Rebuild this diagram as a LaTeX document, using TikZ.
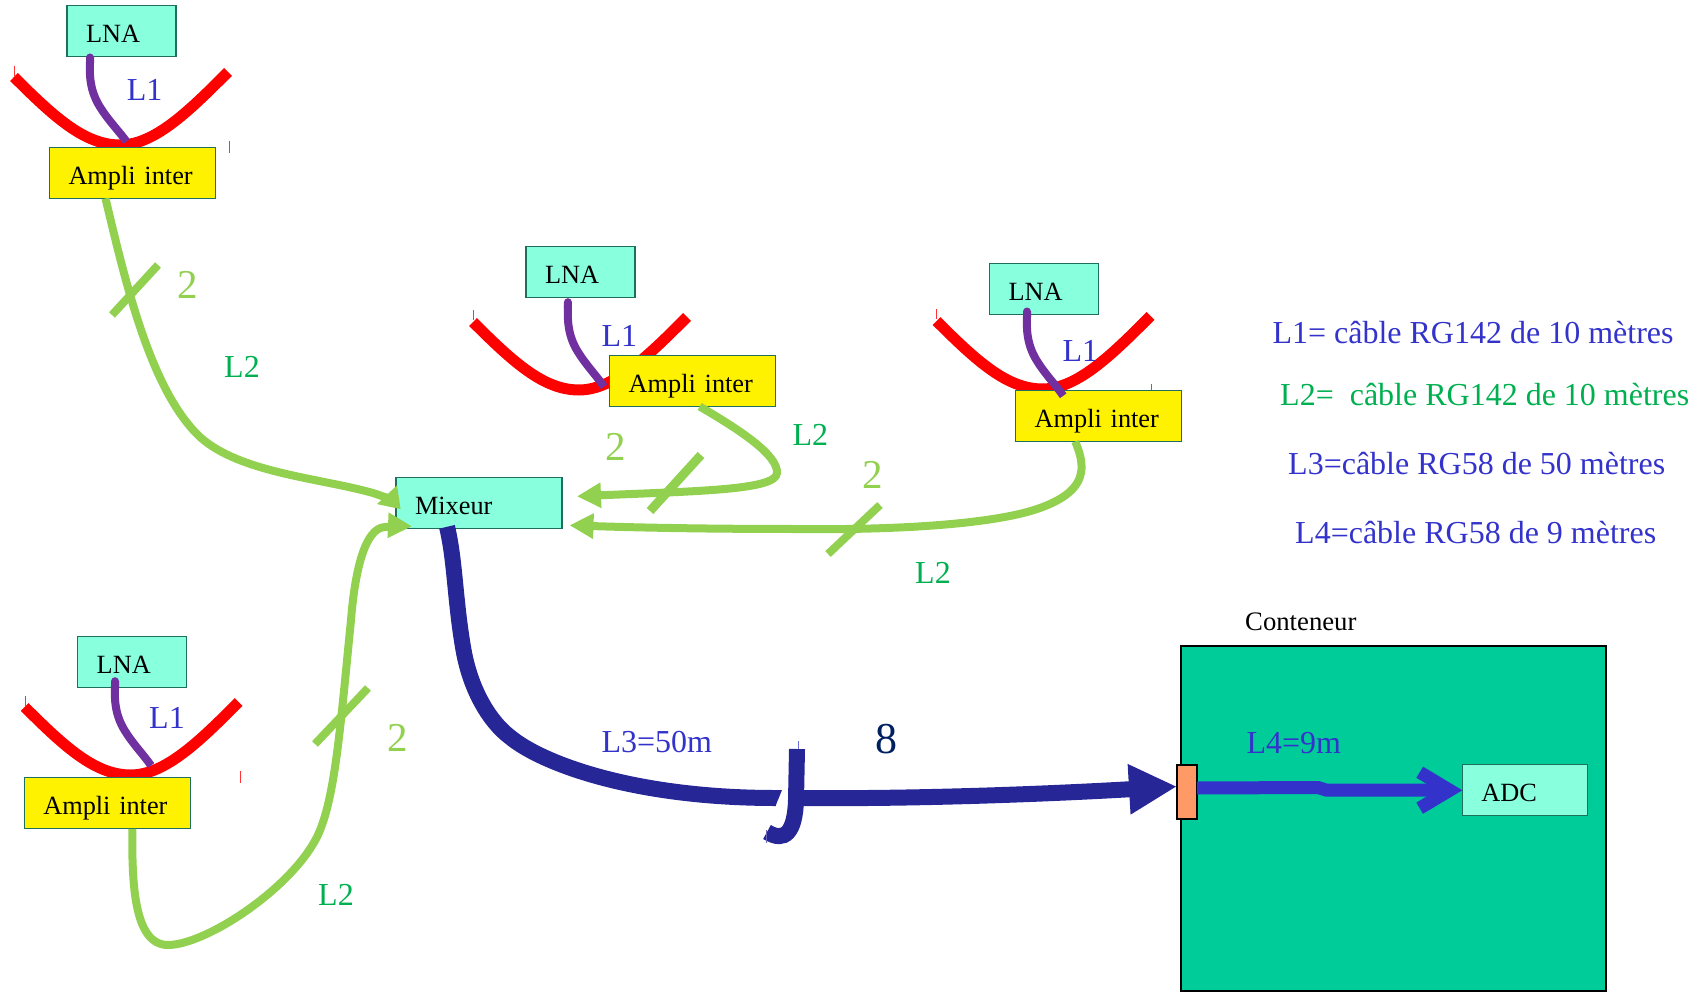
\documentclass[tikz,border=0pt]{standalone}
\usepackage{fontspec}
\setmainfont{Liberation Serif}
\usetikzlibrary{arrows.meta}
\definecolor{aquabox}{HTML}{88FFDD}
\definecolor{boxline}{HTML}{1F6F5F}
\definecolor{contfill}{HTML}{00CC99}
\definecolor{connfill}{HTML}{FF9966}
\definecolor{cablegreen}{HTML}{92D050}
\definecolor{labgreen}{HTML}{00B050}
\definecolor{labblue}{HTML}{3333CC}
\definecolor{navycable}{HTML}{262696}
\definecolor{purplecable}{HTML}{7030A0}
\definecolor{darknum}{HTML}{002060}
\tikzset{
	box/.style={draw=boxline,line width=1.3pt,outer sep=0pt,anchor=north west,minimum height=51pt,inner xsep=19pt,inner ysep=0pt,text height=22.5pt,text depth=0pt,align=left,font=\fontsize{26.3}{30}\selectfont},
	lnabox/.style={box,fill=aquabox,text width=71pt},
	amplibox/.style={box,fill=yellow,text width=128pt},
	mixbox/.style={box,fill=aquabox,text width=128pt},
	adcbox/.style={box,fill=aquabox,text width=87pt},
	dish/.style={red,line width=11pt},
	ticklet/.style={red!80,line width=1pt},
	feed/.style={{Round Cap[]}-,purplecable,line width=8pt},
	cable/.style={-{Triangle[length=24pt,width=24pt]},cablegreen,line width=8pt},
	slash/.style={cablegreen,line width=8pt},
	lab/.style={anchor=base west,inner sep=0pt,xshift=-1pt,yshift=-.3pt,font=\fontsize{32}{36}\selectfont},
	num/.style={lab,font=\fontsize{41}{46}\selectfont,text=cablegreen}
}
\begin{document}
\begin{tikzpicture}[x=1pt,y=-1pt]
	\useasboundingbox (0,0) rectangle (1704,992);

	\draw[dish] (14,77) .. controls (55,118) and (85,145) .. (120,145) .. controls (155,145) and (190,110) .. (228,72);
	\draw[dish,shift={(459,245)}] (14,77) .. controls (55,118) and (85,145) .. (120,145) .. controls (155,145) and (190,110) .. (228,72);
	\draw[dish,shift={(922.5,244)}] (14,77) .. controls (55,118) and (85,145) .. (120,145) .. controls (155,145) and (190,110) .. (228,72);
	\draw[dish,shift={(10.7,630)}] (14,77) .. controls (55,118) and (85,145) .. (120,145) .. controls (155,145) and (190,110) .. (228,72);

	\draw[ticklet] (14.5,66) -- (14.5,76);
	\draw[ticklet] (229,141) -- (229,153);
	\draw[ticklet] (473.7,310) -- (473.7,320);
	\draw[ticklet] (936.7,309) -- (936.7,319);
	\draw[ticklet] (1151.7,384) -- (1151.7,392);
	\draw[ticklet] (25.7,696) -- (25.7,706);
	\draw[ticklet] (240,771) -- (240,783);

	\node[lnabox] (lna1) at (67,5.5) {LNA};
	\node[lnabox] (lna2) at (526,246.5) {LNA};
	\node[lnabox] (lna3) at (989.5,263.5) {LNA};
	\node[lnabox] (lna4) at (77.7,636.5) {LNA};
	\node[amplibox] (ampli1) at (49.5,147.5) {Ampli inter};
	\node[amplibox] (ampli2) at (609.7,355.5) {Ampli inter};
	\node[amplibox] (ampli3) at (1015.7,390.5) {Ampli inter};
	\node[amplibox] (ampli4) at (24.3,777.8) {Ampli inter};
	\node[mixbox] (mixeur) at (396,477.8) {Mixeur};

	\node[anchor=north west,draw=black,line width=2pt,outer sep=0pt,fill=contfill,minimum width=425pt,minimum height=345.5pt] (conteneur) at (1181,645.5) {};
	\node[adcbox] (adc) at (1462.3,764.8) {ADC};
	\node[anchor=north west,draw=black,line width=2pt,outer sep=0pt,fill=connfill,minimum width=20pt,minimum height=54pt,inner sep=0pt] (conn) at (1177,764.5) {};

	\draw[feed] ([xshift=-31.5pt,yshift=3pt]lna1.south) .. controls (90,70) and (88,88) .. (100,107) .. controls (108,120) and (118,130) .. ([xshift=-6pt,yshift=6pt]ampli1.north);
	\draw[feed] ([xshift=-12.6pt,yshift=-.7pt]lna2.south) .. controls (568,315) and (566,333) .. (578,352) .. controls (586,365) and (596,375) .. ([xshift=-5.7pt,yshift=-5.7pt]ampli2.west);
	\draw[feed] ([xshift=-17pt,yshift=7pt]lna3.south) .. controls (1027,324) and (1025,342) .. (1037,361) .. controls (1045,374) and (1055,384) .. ([xshift=-35.5pt,yshift=-5.3pt]ampli3.north);
	\draw[feed] ([xshift=-17.2pt,yshift=10.3pt]lna4.south) .. controls (115,694) and (113,712) .. (125,731) .. controls (133,744) and (143,754) .. ([xshift=43.7pt,yshift=12.3pt]ampli4.north);

	\draw[cable,-{Triangle[length=20pt,width=26pt]}] ([xshift=-27pt]ampli1.south) .. controls (125,280) and (150,390) .. (200,437) .. controls (240,473) and (320,478) .. (373,493) .. controls (385,497) and (392,500) .. ([xshift=4.7pt,yshift=-6pt]mixeur.west);
	\draw[cable] ([xshift=7pt]ampli2.south) .. controls (740,430) and (778,455) .. (777,473) .. controls (776,490) and (700,491) .. ([xshift=15pt,yshift=7pt]mixeur.east);
	\draw[cable] ([xshift=-23.5pt]ampli3.south) .. controls (1085,465) and (1090,490) .. (1040,508) .. controls (990,526) and (880,530) .. (800,529) .. controls (720,529) and (650,528) .. ([xshift=7.5pt,yshift=-22pt]mixeur.east);
	\draw[cable] ([xshift=25pt]ampli4.south) .. controls (132,880) and (133,945) .. (168,945) .. controls (205,945) and (290,890) .. (317,837) .. controls (335,800) and (340,730) .. (351,620) .. controls (355,570) and (365,528) .. (385,527) .. controls (395,527) and (405,526) .. ([xshift=16pt,yshift=-23pt]mixeur.west);

	\draw[slash] (112,315) -- (158,265);
	\draw[slash,line width=9pt] (701,455) -- (650,511);
	\draw[slash] (828,554) -- (880,505);
	\draw[slash] (315,744) -- (368,688);

	\coordinate (jumpa) at (776,798);
	\coordinate (jumpb) at (803,798);
	\draw[navycable,line width=16pt] ([xshift=-32pt,yshift=2pt]mixeur.south) .. controls (455,560) and (455,600) .. (463,647) .. controls (470,690) and (490,722) .. (510,737) .. controls (540,762) and (630,798) .. (jumpa);
	\fill[navycable] (775.5,790) -- (782,790) -- (775.5,806) -- cycle;
	\draw[navycable,line width=16pt] (797,749) -- (796,800) .. controls (795,832) and (785,843) .. (767,832);
	\draw[-{Triangle[length=48pt,width=47pt]},navycable,line width=16pt] (jumpb) .. controls (900,799) and (1030,795) .. ([yshift=5pt]conn.west);
	\draw[labblue!70!white,line width=1pt] (798,741) -- (798,749);
	\draw[navycable!70!white,line width=1pt] (766,830) -- (766,843);

	\draw[-{Straight Barb[length=30pt,width=36pt]},labblue,line width=13pt] ([yshift=3.5pt]conn.east) -- (1318,787.5) -- (1326,790) -- (adc.west);

	\node[lab,text=labblue] (l1a) at (127.7,100) {L1};
	\node[lab,text=labblue] (l1b) at (602.3,345.7) {L1};
	\node[lab,text=labblue] (l1c) at (1063.3,361) {L1};
	\node[lab,text=labblue] (l1d) at (150,728) {L1};
	\node[lab,text=labgreen] (l2a) at (225,376.7) {L2};
	\node[lab,text=labgreen] (l2b) at (793.3,445) {L2};
	\node[lab,text=labgreen] (l2c) at (916,583.5) {L2};
	\node[lab,text=labgreen] (l2d) at (319,905) {L2};
	\node[num] (numa) at (178,297.7) {2};
	\node[num] (numb) at (606.7,460) {2};
	\node[num] (numc) at (863,488) {2};
	\node[num] (numd) at (388.3,751) {2};
	\node[num,font=\fontsize{44}{48}\selectfont,text=darknum] (nume) at (876.7,753.3) {8};
	\node[lab,text=labblue] (l3) at (602.3,752.3) {L3=50m};
	\node[lab,text=labblue] (l4) at (1247.3,752.7) {L4=9m};
	\node[lab,font=\fontsize{26.7}{30}\selectfont] (contlab) at (1246,630) {Conteneur};

	\node[lab,text=labblue] (lega) at (1273.3,343.3) {L1= câble RG142 de 10 mètres};
	\node[lab,text=labgreen] (legb) at (1281,405) {L2=\ \ câble RG142 de 10 mètres};
	\node[lab,text=labblue] (legc) at (1289,474) {L3=câble RG58 de 50 mètres};
	\node[lab,text=labblue] (legd) at (1296,543) {L4=câble RG58 de 9 mètres};
\end{tikzpicture}
\end{document}
